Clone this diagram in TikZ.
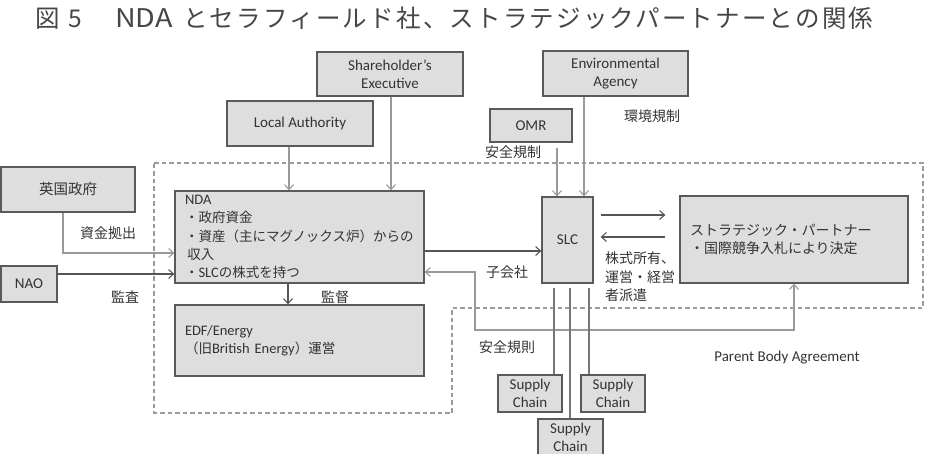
\documentclass[tikz,border=0pt]{standalone}
\usepackage{fontspec}
\setmainfont{Carlito}
\newfontfamily\jp{Noto Sans CJK JP}
\newfontfamily\jptitle[LetterSpace=9]{Noto Sans CJK JP}
\newfontfamily\en{Carlito}
\usetikzlibrary{arrows.meta,calc}
\definecolor{boxfill}{HTML}{DEDEDE}
\definecolor{boxline}{HTML}{5A5A5A}
\definecolor{txt}{HTML}{333333}
\definecolor{lightln}{HTML}{9A9A9A}
\definecolor{darkln}{HTML}{555555}
\definecolor{titlec}{HTML}{464646}
\begin{document}
\begin{tikzpicture}[x=1pt,y=-1pt,
  box/.style={draw=boxline,fill=boxfill,line width=1.3pt,inner sep=0pt,text=txt,
    font=\fontsize{15}{18}\selectfont,align=center},
  textbox/.style={box,align=left,inner xsep=10pt,inner ysep=0pt},
  lab/.style={text=txt,font=\jp\fontsize{14}{18.5}\selectfont,inner sep=0pt},
  enlab/.style={text=txt,font=\fontsize{15}{18}\selectfont,inner sep=0pt},
  arr/.style={-{Straight Barb[length=5pt,width=9pt]},line width=1.1pt},
  darr/.style={{Straight Barb[length=5pt,width=9pt]}-{Straight Barb[length=5pt,width=9pt]},line width=1.1pt},
  plain/.style={line width=1.1pt},
  region/.style={draw=lightln,line width=1.3pt,dash pattern=on 4.5pt off 3pt}]
\useasboundingbox (0,0) rectangle (930,454);

% title
\node[text=titlec,inner sep=0pt,anchor=base west] (title) at (35,28)
  {\fontsize{24.5}{30}\selectfont\jp\makebox[33pt][l]{図}\makebox[47pt][l]{5}\makebox[68pt][l]{\scalebox{1.17}[1.05]{NDA}}\jptitle とセラフィールド社、ストラテジックパートナーとの関係};

% dashed region
\draw[region] (154,163) -- (923,163) -- (923,308) -- (452,308) -- (452,413) -- (154,413) -- cycle;

% boxes
\node[box,minimum width=146pt,minimum height=44pt] (she) at (390,74) {Shareholder's\\Executive};
\node[box,minimum width=146pt,minimum height=45pt] (la) at (300,123.5) {Local Authority};
\node[box,minimum width=145pt,minimum height=45pt] (ea) at (615.5,73.5) {Environmental\\Agency};
\node[box,minimum width=82pt,minimum height=33pt] (omr) at (531,125.5) {OMR};
\node[box,minimum width=134pt,minimum height=45pt] (uk) at (68,189.5) {\jp\fontsize{14.5}{17}\selectfont 英国政府};
\node[box,minimum width=56pt,minimum height=36pt] (nao) at (29,284) {NAO};
\node[textbox,text width=229pt,minimum height=92pt] (nda) at (299.5,237)
  {\fontsize{13.5}{18.6}\selectfont\en\fontsize{14.5}{18.6}\selectfont NDA\\
   \jp\fontsize{13.5}{18.6}\selectfont ・政府資金\\
   \jp ・資産（主にマグノックス炉）からの\\
   \jp \,収入\\
   \jp ・{\en\fontsize{14.5}{18.6}\selectfont SLC}の株式を持つ};
\node[textbox,text width=229pt,minimum height=71pt] (edf) at (299.5,340.5)
  {\fontsize{14.5}{19}\selectfont\en EDF/Energy\\
   \jp\fontsize{13.5}{19}\selectfont （旧{\en\fontsize{14.5}{19}\selectfont British Energy}）運営};
\node[textbox,text width=208pt,minimum height=87pt] (sp) at (794,239.5)
  {\jp\fontsize{14}{17}\selectfont ストラテジック・パートナー\\
   ・国際競争入札により決定};
\node[box,minimum width=51pt,minimum height=86pt] (slc) at (567.5,240) {SLC};
\node[box,minimum width=64pt,minimum height=37pt,font=\fontsize{15}{17.5}\selectfont] (sc1) at (530,393.5) {Supply\\Chain};
\node[box,minimum width=64pt,minimum height=37pt,font=\fontsize{15}{17.5}\selectfont] (sc2) at (613,393.5) {Supply\\Chain};
\node[box,minimum width=65pt,minimum height=37pt,font=\fontsize{15}{17.5}\selectfont] (sc3) at (570.5,437.5) {Supply\\Chain};

% labels
\node[lab] (lfund) at (108,233) {資金拠出};
\node[lab] (laudit) at (125,297) {監査};
\node[lab] (lsup) at (335,297) {監督};
\node[lab] (lsub) at (507,272) {子会社};
\node[lab] (lsafe1) at (513,152) {安全規制};
\node[lab] (lenv) at (652,116) {環境規制};
\node[lab,anchor=west,align=left] (lown) at (605,277) {株式所有、\\運営・経営\\者派遣};
\node[lab] (lsafe2) at (507,347) {安全規則};
\node[enlab] (lpba) at (787,358) {Parent Body Agreement};

% connectors
\draw[arr,lightln] (la.south -| 289,0) -- (nda.north -| 289,0);
\draw[arr,lightln] (she.south -| 391,0) -- (nda.north -| 391,0);
\draw[arr,lightln,shorten <=5pt] (omr.south -| 557,0) -- (slc.north -| 557,0);
\draw[arr,lightln] (ea.south -| 584,0) -- (slc.north -| 584,0);
\draw[arr,lightln] (uk.south -| 63,0) -- (63,253) -- (nda.west |- 0,253);
\draw[arr,darkln] (nao.east |- 0,274) -- (nda.west |- 0,274);
\draw[arr,darkln] (nda.east |- 0,251) -- (slc.west |- 0,251);
\draw[arr,darkln] (nda.south -| 288,0) -- (edf.north -| 288,0);
\draw[darr,lightln] (sp.south -| 794,0) -- (794,330) -- (475,330) -- (475,272) -- (nda.east |- 0,272);
\draw[arr,darkln,shorten <=7pt,shorten >=14pt] (slc.east |- 0,215) -- (sp.west |- 0,215);
\draw[arr,darkln,shorten <=14pt,shorten >=7pt] (sp.west |- 0,237) -- (slc.east |- 0,237);
\draw[plain,darkln!80,shorten <=4pt] (slc.south -| 554,0) -- (sc1.north -| 554,0);
\draw[plain,darkln!80,shorten <=4pt] (slc.south -| 570,0) -- (sc3.north -| 570,0);
\draw[plain,darkln!80,shorten <=4pt] (slc.south -| 589,0) -- (sc2.north -| 589,0);
\end{tikzpicture}
\end{document}
